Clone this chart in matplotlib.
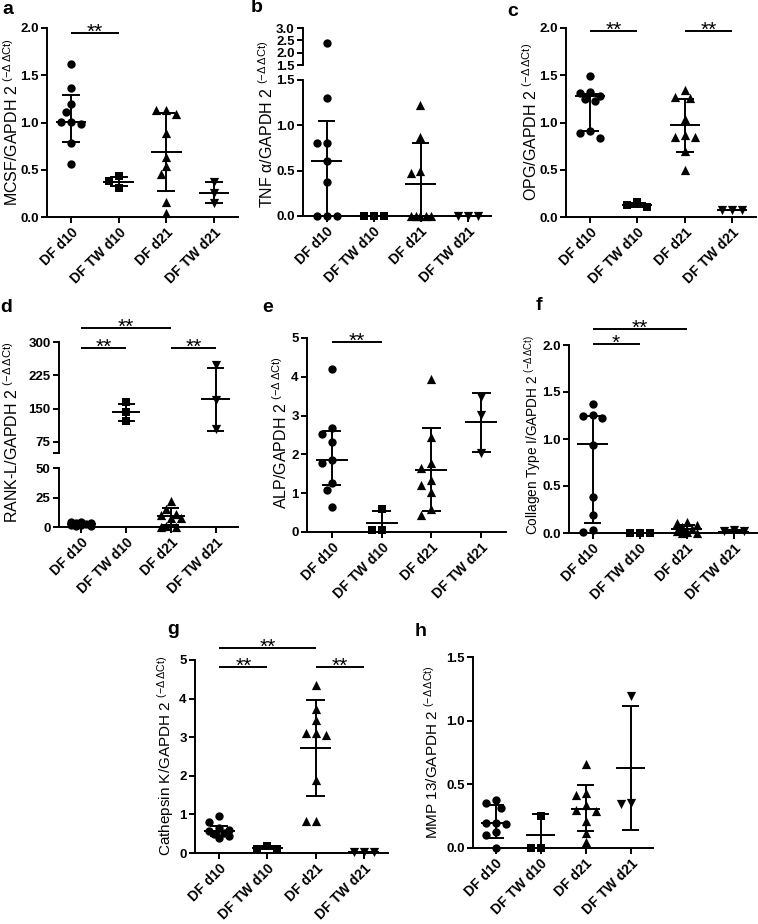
import matplotlib
matplotlib.use("Agg")
import matplotlib.pyplot as plt

plt.rcParams["font.family"] = ["Liberation Sans", "DejaVu Sans"]
plt.rcParams["mathtext.default"] = "regular"

W, H = 758, 924

groups = ["DF d10", "DF TW d10", "DF d21", "DF TW d21"]
markers = ["o", "s", "^", "v"]
marker_size = [36, 32, 44, 44]

# a: MCSF
mcsf_pts = [[1.615, 1.37, 1.20, 1.115, 1.005, 1.005, 0.98, 0.78, 0.557],
            [0.43, 0.31, 0.38],
            [1.13, 1.09, 1.13, 0.885, 0.64, 0.54, 0.46, 0.16, 0.04],
            [0.37, 0.145, 0.25]]
mcsf_mean = [1.005, 0.375, 0.684, 0.25]
mcsf_lo = [0.79, 0.33, 0.27, 0.145]
mcsf_hi = [1.29, 0.42, 1.10, 0.37]
mcsf_sig = [(0, 1, 1.95, "**")]

# b: TNF alpha
tnf_pts = [[2.41, 1.30, 0.80, 0.80, 0.61, 0.37, 0.0, 0.0, 0.0],
           [0.0, 0.0, 0.0],
           [1.22, 0.87, 0.50, 0.47, 0.0, 0.0, 0.0, 0.0, 0.0],
           [0.0, 0.0, 0.0]]
tnf_mean = [0.61, 0.0, 0.35, 0.0]
tnf_lo = [0.0, 0.0, 0.0, 0.0]
tnf_hi = [1.05, 0.0, 0.80, 0.0]
tnf_sig = []

# c: OPG
opg_pts = [[1.49, 1.32, 1.31, 1.28, 1.25, 1.23, 0.91, 0.89, 0.84],
           [0.16, 0.11, 0.13],
           [1.34, 1.26, 1.27, 1.04, 0.85, 0.87, 0.85, 0.70, 0.50],
           [0.07, 0.07, 0.07]]
opg_mean = [1.28, 0.13, 0.97, 0.07]
opg_lo = [0.91, 0.11, 0.69, 0.07]
opg_hi = [1.30, 0.15, 1.25, 0.07]
opg_sig = [(0, 1, 1.97, "**"), (2, 3, 1.97, "**")]

# d: RANK-L
rank_pts = [[4.5, 4.0, 3.5, 3.0, 2.5, 2.0, 1.5, 1.0, 0.5],
            [164, 143, 121],
            [22, 15, 11, 10, 7.5, 7.5, 0.5, 0.3, 0.2],
            [248, 169, 104]]
rank_mean = [2.5, 141.8, 8.9, 171.6]
rank_lo = [1.2, 121, 2.0, 100]
rank_hi = [3.8, 160, 15.9, 242]
rank_sig = [(0, 2, 332, "**"), (0, 1, 287, "**"), (2, 3, 287, "**")]

# e: ALP
alp_pts = [[4.21, 2.67, 2.53, 2.33, 1.85, 1.77, 1.27, 1.08, 0.65],
           [0.59, 0.04, 0.04],
           [3.95, 2.46, 1.77, 1.64, 1.34, 1.21, 1.03, 0.60, 0.43],
           [3.49, 3.02, 2.04]]
alp_mean = [1.85, 0.22, 1.61, 2.83]
alp_lo = [1.22, 0.0, 0.54, 2.07]
alp_hi = [2.60, 0.54, 2.69, 3.58]
alp_sig = [(0, 1, 4.9, "**")]

# f: Collagen type I
col_pts = [[1.37, 1.26, 1.25, 1.22, 0.94, 0.38, 0.19, 0.03, 0.01],
           [0.0, 0.0, 0.0],
           [0.12, 0.11, 0.09, 0.06, 0.04, 0.02, 0.01, 0.0, 0.0],
           [0.03, 0.02, 0.02]]
col_mean = [0.945, 0.0, 0.046, 0.015]
col_lo = [0.11, 0.0, 0.0, 0.0]
col_hi = [1.25, 0.0, 0.09, 0.03]
col_sig = [(0, 2, 2.17, "**"), (0, 1, 2.01, "*")]

# g: Cathepsin K
ctk_pts = [[0.97, 0.80, 0.65, 0.60, 0.58, 0.52, 0.48, 0.45, 0.40],
           [0.19, 0.10, 0.10],
           [4.35, 3.72, 3.45, 3.10, 3.06, 3.10, 1.88, 0.82, 0.83],
           [0.03, 0.03, 0.03]]
ctk_mean = [0.56, 0.14, 2.73, 0.03]
ctk_lo = [0.45, 0.10, 1.47, 0.03]
ctk_hi = [0.71, 0.18, 3.97, 0.03]
ctk_sig = [(0, 2, 5.31, "**"), (0, 1, 4.82, "**"), (2, 3, 4.82, "**")]

# h: MMP 13
mmp_pts = [[0.377, 0.356, 0.317, 0.20, 0.20, 0.19, 0.128, 0.102, 0.0],
           [0.25, 0.0, 0.0],
           [0.66, 0.43, 0.42, 0.34, 0.30, 0.29, 0.21, 0.12, 0.05],
           [1.19, 0.345, 0.35]]
mmp_mean = [0.20, 0.10, 0.31, 0.63]
mmp_lo = [0.08, 0.0, 0.13, 0.14]
mmp_hi = [0.34, 0.27, 0.495, 1.115]
mmp_sig = []

dec1 = lambda ts: ["%.1f" % t for t in ts]
ints = lambda ts: ["%d" % t for t in ts]

sup = r" $^{(-\Delta\,\Delta Ct)}$"

fig = plt.figure(figsize=(W / 100, H / 100), dpi=100)


def px_ax(l, t, r, b):
    return fig.add_axes([l / W, 1 - b / H, (r - l) / W, (b - t) / H])


def panel(letter, lxy, l, r, segs, label, yl_xy, yl_size, pts, mean, lo, hi, sig):
    axes = []
    for k, (t, b, y0, y1, ticks, labels) in enumerate(segs):
        ax = px_ax(l, t, r, b)
        ax.set_xlim(-0.5, 3.5)
        ax.set_ylim(y0, y1)
        ax.patch.set_visible(False)
        for s in ("top", "right"):
            ax.spines[s].set_visible(False)
        for s in ("left", "bottom"):
            ax.spines[s].set_linewidth(1.4)
        ax.set_yticks(ticks)
        ax.set_yticklabels(labels, fontweight="bold")
        ax.tick_params(width=1.4, length=4, labelsize=9.5, pad=2)
        if k == 0:
            ax.set_xticks(range(4))
            ax.set_xticklabels(groups, rotation=45, ha="right",
                               rotation_mode="anchor", fontweight="bold", fontsize=10)
        else:
            ax.spines["bottom"].set_visible(False)
            ax.set_xticks([])
        axes.append(ax)

    def seg_of(v):
        for ax, s in zip(axes, segs):
            if v <= s[3] + 1e-9:
                return ax
        return axes[-1]

    # spread points sideways like a swarm so that they do not cover each other
    step, thr = 5.0, 8.5
    for i in range(4):
        vals = pts[i]
        placed = []
        for j in sorted(range(len(vals)), key=lambda q: -vals[q]):
            v = vals[j]
            ax = seg_of(v)
            x0, y0 = ax.transData.transform((i, v))
            best, best_d = 0.0, -1
            for kk in (0, -1, 1, -2, 2):
                off = kk * step
                d = min([((x0 + off - px) ** 2 + (y0 - py) ** 2) ** 0.5
                         for px, py in placed] or [1e9])
                if d >= thr:
                    best = off
                    break
                if d > best_d:
                    best, best_d = off, d
            placed.append((x0 + best, y0))
            xd = ax.transData.inverted().transform((x0 + best, y0))[0]
            ax.scatter([xd], [v], marker=markers[i], s=marker_size[i],
                       color="black", linewidths=0, clip_on=False, zorder=3)
        for ax in axes:
            ax.vlines(i, lo[i], hi[i], color="black", lw=1.4)
        for v, hw in ((hi[i], 0.19), (lo[i], 0.19), (mean[i], 0.32)):
            seg_of(v).hlines(v, i - hw, i + hw, color="black", lw=1.4,
                             clip_on=False, zorder=4)

    top = axes[-1]
    for a_, b_, y, txt in sig:
        top.plot([a_, b_], [y, y], color="black", lw=1.4, clip_on=False,
                 solid_capstyle="butt")
        top.annotate(txt, ((a_ + b_) / 2, y), xytext=(0, -3.5),
                     textcoords="offset points", ha="center", va="baseline",
                     fontsize=15, annotation_clip=False)

    fig.text(lxy[0] / W, 1 - lxy[1] / H, letter, fontsize=14,
             fontweight="bold", ha="center", va="center")
    fig.text(yl_xy[0] / W, 1 - yl_xy[1] / H, label + sup, rotation=90,
             ha="center", va="center", fontsize=yl_size)


t2 = [0, 0.5, 1.0, 1.5, 2.0]
t5 = [0, 1, 2, 3, 4, 5]

panel("a", (8, 10), 47, 238, [(28, 217, 0, 2.0, t2, dec1(t2))],
      "MCSF/GAPDH 2", (12, 122), 11.5,
      mcsf_pts, mcsf_mean, mcsf_lo, mcsf_hi, mcsf_sig)

tb_lo = [0, 0.5, 1.0, 1.5]
tb_hi = [1.5, 2.0, 2.5, 3.0]
panel("b", (257, 8), 303, 491,
      [(80, 216, 0, 1.5, tb_lo, dec1(tb_lo)), (28, 65, 1.5, 3.0, tb_hi, dec1(tb_hi))],
      r"TNF $\alpha$/GAPDH 2", (267, 124), 11.5,
      tnf_pts, tnf_mean, tnf_lo, tnf_hi, tnf_sig)

panel("c", (513, 12), 566, 756, [(28, 217, 0, 2.0, t2, dec1(t2))],
      "OPG/GAPDH 2", (531, 122), 11.5,
      opg_pts, opg_mean, opg_lo, opg_hi, opg_sig)

td_lo = [0, 25, 50]
td_hi = [50, 75, 150, 225, 300]
panel("d", (6, 308), 59, 238,
      [(468, 527, 0, 50, td_lo, ints(td_lo)),
       (342, 453, 50, 300, td_hi, [""] + ints(td_hi[1:]))],
      "RANK-L/GAPDH 2", (12, 432), 11.5,
      rank_pts, rank_mean, rank_lo, rank_hi, rank_sig)

panel("e", (268, 308), 307, 506, [(338, 532, 0, 5, t5, ints(t5))],
      "ALP/GAPDH 2", (281, 433), 11.5,
      alp_pts, alp_mean, alp_lo, alp_hi, alp_sig)

panel("f", (539, 305), 569, 757, [(345, 533, 0, 2.0, t2, dec1(t2))],
      "Collagen Type I/GAPDH 2", (533, 435), 9.8,
      col_pts, col_mean, col_lo, col_hi, col_sig)

panel("g", (173, 630), 195, 388, [(660, 853, 0, 5, t5, ints(t5))],
      "Cathepsin K/GAPDH 2", (166, 756), 11.0,
      ctk_pts, ctk_mean, ctk_lo, ctk_hi, ctk_sig)

th = [0, 0.5, 1.0, 1.5]
panel("h", (421, 632), 473, 653, [(657, 848, 0, 1.5, th, dec1(th))],
      "MMP 13/GAPDH 2", (432, 752), 11.0,
      mmp_pts, mmp_mean, mmp_lo, mmp_hi, mmp_sig)

fig.savefig("out.png", dpi=100)
